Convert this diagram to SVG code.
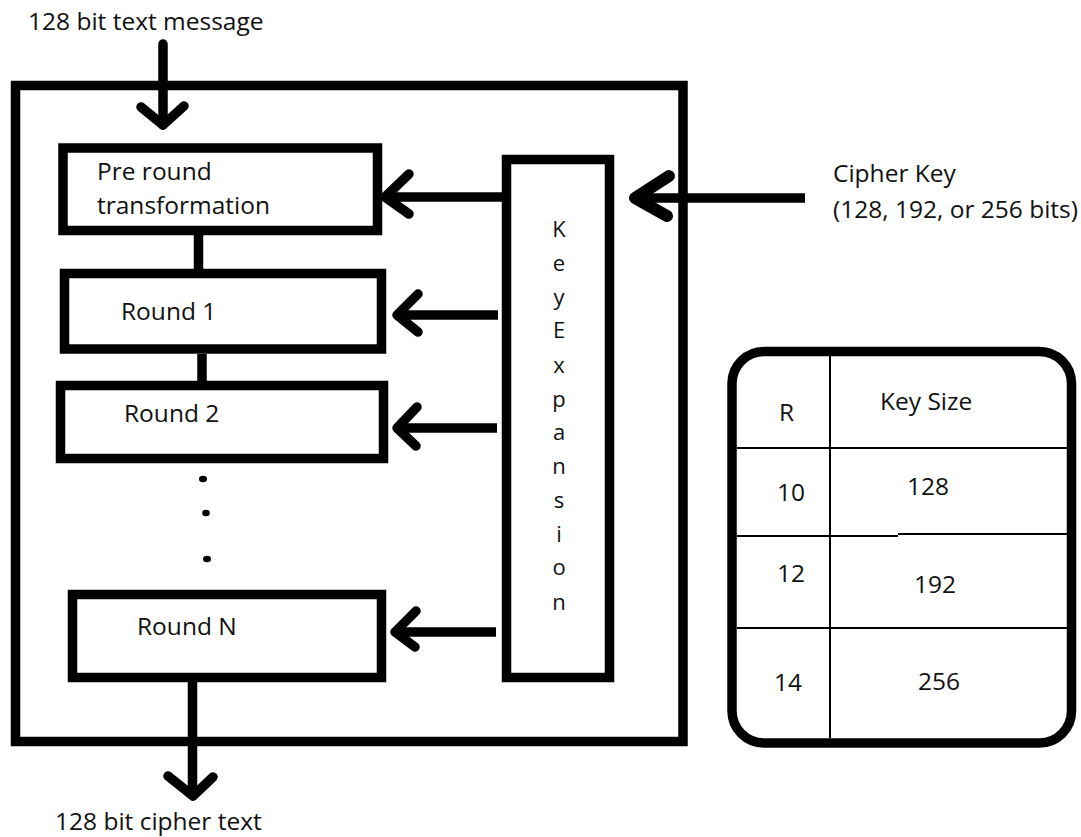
<svg xmlns="http://www.w3.org/2000/svg" width="1081" height="837" viewBox="0 0 1081 837">
<style>
.box{fill:none;stroke:#000;stroke-width:9.5}
.thin{fill:none;stroke:#000;stroke-width:2}
.ln{fill:none;stroke:#000;stroke-width:9.5;stroke-linecap:round;stroke-linejoin:round}
.hd{fill:none;stroke:#000;stroke-width:9.5;stroke-linecap:round;stroke-linejoin:round}
text{font-family:"Open Sans","Liberation Sans",sans-serif;font-size:24.5px;fill:#111}
.k{font-size:22px;text-anchor:middle}
</style>
<rect width="1081" height="837" fill="#fff"/>
<g id="outer"><rect class="box" x="15.5" y="85.5" width="667.5" height="656"/></g>
<g id="input-label"><text x="28" y="30">128 bit text message</text></g>
<g id="output-label"><text x="55" y="830">128 bit cipher text</text></g>
<g id="pre-round"><rect class="box" x="63" y="148" width="314.5" height="82.5"/><text x="97" y="180">Pre round</text><text x="97" y="214">transformation</text></g>
<g id="round1"><rect class="box" x="64.5" y="273.5" width="317" height="75.5"/><text x="121" y="320">Round 1</text></g>
<g id="round2"><rect class="box" x="60.5" y="385.5" width="323" height="73"/><text x="124" y="422">Round 2</text></g>
<g id="ellipsis"><ellipse cx="203" cy="479" rx="4" ry="3.3" fill="#000"/><ellipse cx="206" cy="513" rx="3.8" ry="3.3" fill="#000"/><ellipse cx="207" cy="559" rx="4" ry="3.3" fill="#000"/></g>
<g id="roundN"><rect class="box" x="72.5" y="594.5" width="309" height="83"/><text x="137" y="635">Round N</text></g>
<g id="key-expansion"><rect class="box" x="506.5" y="159.5" width="103" height="518"/>
<text class="k" x="559" y="237">K</text><text class="k" x="559" y="271">e</text><text class="k" x="559" y="305">y</text><text class="k" x="559" y="338">E</text><text class="k" x="559" y="373">x</text><text class="k" x="559" y="407">p</text><text class="k" x="559" y="440">a</text><text class="k" x="559" y="474">n</text><text class="k" x="559" y="508">s</text><text class="k" x="559" y="542">i</text><text class="k" x="559" y="575">o</text><text class="k" x="559" y="610">n</text></g>
<g id="cipher-key-label"><text x="833" y="182">Cipher Key</text><text x="833" y="218">(128, 192, or 256 bits)</text></g>
<g id="round-table">
<rect class="box" x="732" y="351.5" width="339.5" height="391.5" rx="32" ry="32"/>
<line class="thin" x1="830" y1="356" x2="830" y2="738"/>
<line class="thin" x1="737" y1="448" x2="1067" y2="448"/>
<line class="thin" x1="737" y1="536" x2="898" y2="536"/>
<line class="thin" x1="898" y1="534" x2="1067" y2="534"/>
<line class="thin" x1="737" y1="628" x2="1067" y2="628"/>
<text x="779" y="421">R</text><text x="880" y="410">Key Size</text>
<text x="777" y="501">10</text><text x="907" y="495">128</text>
<text x="777" y="582">12</text><text x="914" y="593">192</text>
<text x="774" y="691">14</text><text x="918" y="690">256</text>
</g>
<g id="connectors">
<path class="ln" d="M163 44V125"/><path class="hd" d="M141 107L163 125L184 106"/>
<path class="ln" d="M198.5 235V270" style="stroke-linecap:butt"/>
<path class="ln" d="M202 354V381" style="stroke-linecap:butt"/>
<path class="ln" d="M192.5 682V796" style="stroke-linecap:butt"/><path class="hd" d="M168 776L193 796L213 777"/>
<path class="ln" d="M502 197H385" style="stroke-linecap:butt"/><path class="hd" d="M409 174L385 197L409 214"/>
<path class="ln" d="M498 315H397" style="stroke-linecap:butt"/><path class="hd" d="M418 294L397 315L418 332"/>
<path class="ln" d="M497 428H397" style="stroke-linecap:butt"/><path class="hd" d="M417 407L397 428L416 446"/>
<path class="ln" d="M496 632H395" style="stroke-linecap:butt"/><path class="hd" d="M416 611L395 632L415 647"/>
<path class="ln" d="M805 198H635" style="stroke-linecap:butt"/><path class="hd" d="M669 176L635 198L667 216" style="stroke-width:12"/>
</g>
</svg>
